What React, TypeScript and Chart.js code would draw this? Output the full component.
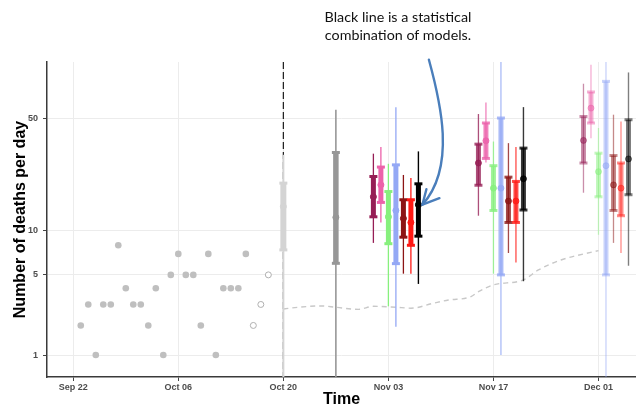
import React, { useEffect, useRef } from 'react';
import { Chart, registerables } from 'chart.js';

Chart.register(...registerables);

// ---------- axes ----------
const tickDays = [0, 14, 28, 42, 56, 70]; // days since Sep 22
const tickLabels = ['Sep 22', 'Oct 06', 'Oct 20', 'Nov 03', 'Nov 17', 'Dec 01'];
const yTickValues = [1, 5, 10, 50];
const xRange = [-3.5, 75];
const yRange = [0.48, 110];

// ---------- observed deaths ----------
const observedDays = [1, 2, 3, 4, 5, 6, 7, 8, 9, 10, 11, 12, 13, 14, 15, 16, 17, 18, 19, 20, 21, 22, 23];
const observedDeaths = [2, 3, 1, 3, 3, 8, 4, 3, 3, 2, 4, 1, 5, 7, 5, 5, 2, 7, 1, 4, 4, 4, 7];
const provisionalDays = [24, 25, 26];
const provisionalDeaths = [2, 3, 5];

// ---------- forecast reference line ----------
const forecastStartDay = 28;
const trendDays = [28, 30, 33, 35, 38, 40, 43, 45, 48, 50, 53, 54, 56, 60, 62, 65, 70];
const trendValues = [2.76, 2.85, 2.92, 2.85, 2.74, 2.9, 2.85, 2.8, 3.07, 3.25, 3.45, 3.77, 4.23, 4.6, 5.42, 6.36, 7.37];

// ---------- earlier ensemble forecasts [2.5%, 25%, 50%, 75%, 97.5%] ----------
const pastDays = [28, 35];
const pastOct20 = [0, 7.45, 14.3, 20.1, 30.1];
const pastOct27 = [0, 6.03, 12.2, 31.1, 56.7];
const pastColors = ['#d4d4d4', '#979797'];

// ---------- model forecasts, per target date (Nov 03, Nov 17, Dec 01) ----------
const forecastDays = [42, 56, 70];
const modelOffsets = [-2, -1, 0, 1, 2, 3, 4];
const horizonAlpha = [1, 0.78, 0.5];
const modelColors = ['150,30,85', '236,98,170', '135,240,125', '148,168,245', '140,20,20', '255,25,20', '0,0,0'];

const modelMaroon = [[8.3, 12.3, 16.5, 22.1, 30.6], [12.5, 19.5, 26.8, 35.0, 53.4], [17.5, 26.8, 36.9, 51.6, 81.4]];
const modelPink = [[11.3, 15.2, 19.6, 25.3, 33.6], [27.0, 28.6, 36.7, 47.1, 62.8], [38.1, 47.1, 58.0, 72.6, 106]];
const modelGreen = [[2.9, 8.2, 12.3, 17.8, 26.5], [5.1, 13.5, 18.7, 25.8, 36.3], [9.4, 16.5, 23.7, 30.8, 43.9]];
const modelBlue = [[1.95, 6.0, 13.5, 26.1, 58.8], [1.0, 5.0, 18.7, 50.5, 150], [0, 5.0, 25.8, 84.1, 200]];
const modelDarkRed = [[5.1, 9.06, 12.0, 15.8, 22.6], [7.1, 11.3, 15.5, 21.9, 35.5], [8.3, 13.5, 19.6, 29.8, 52.9]];
const modelRed = [[5.1, 8.0, 11.3, 15.8, 21.6], [6.1, 11.3, 15.5, 20.6, 33.6], [7.1, 12.5, 18.7, 26.8, 48.1]];
const modelEnsemble = [[4.3, 9.2, 14.7, 19.9, 31.6], [4.5, 13.6, 21.4, 33.1, 58.8], [5.8, 17.0, 28.4, 49.3, 95.2]];
const models = [modelMaroon, modelPink, modelGreen, modelBlue, modelDarkRed, modelRed, modelEnsemble];

const ensembleIndex = 6;

// log10(x + 1) transform
const tr = (v: number) => Math.log10(v + 1);

const FONT = "'Liberation Sans', Arial, sans-serif";

function buildDatasets() {
  const ds: any[] = [];
  ds.push({
    data: trendDays.map((d, i) => ({ x: d, y: tr(trendValues[i]) })),
    borderColor: '#c8c8c8', borderDash: [5, 4], borderWidth: 1.4, pointRadius: 0,
    cubicInterpolationMode: 'monotone',
  });
  ds.push({
    data: [{ x: forecastStartDay, y: tr(yRange[1]) }, { x: forecastStartDay, y: tr(yRange[0]) }],
    borderColor: '#1a1a1a', borderDash: [7, 3], borderWidth: 1.2, pointRadius: 0,
  });
  ds.push({
    data: observedDays.map((d, i) => ({ x: d, y: tr(observedDeaths[i]) })),
    showLine: false, pointRadius: 3.3, pointBackgroundColor: '#bfbfbf', pointBorderColor: '#bfbfbf', pointBorderWidth: 0,
  });
  ds.push({
    data: provisionalDays.map((d, i) => ({ x: d, y: tr(provisionalDeaths[i]) })),
    showLine: false, pointRadius: 3, pointBackgroundColor: '#ffffff', pointBorderColor: '#b0b0b0', pointBorderWidth: 1,
  });
  const addInterval = (day: number, q: number[], color: string, thin: number, thick: number) => {
    ds.push({
      data: [{ x: day, y: tr(q[0]) }, { x: day, y: tr(q[4]) }],
      borderColor: color, borderWidth: thin, pointRadius: 0,
    });
    ds.push({
      data: [{ x: day, y: tr(q[1]) }, { x: day, y: tr(q[2]) }, { x: day, y: tr(q[3]) }],
      borderColor: color, borderWidth: thick, borderCapStyle: 'butt',
      pointStyle: ['line', 'circle', 'line'], pointRadius: [4, 3, 4], pointBorderWidth: [3, 1, 3],
      pointBackgroundColor: color, pointBorderColor: color,
    });
  };
  addInterval(pastDays[0], pastOct20, pastColors[0], 2, 6);
  addInterval(pastDays[1], pastOct27, pastColors[1], 1.6, 5.5);
  forecastDays.forEach((fd, h) => {
    models.forEach((m, k) => {
      const col = `rgba(${modelColors[k]},${horizonAlpha[h]})`;
      addInterval(fd + modelOffsets[k], m[h], col, k === ensembleIndex ? 1.4 : 1.3, 5);
    });
  });
  // earlier entries at the bottom
  const n = ds.length;
  ds.forEach((d, i) => { d.order = n - i; d.fill = false; });
  return ds;
}

const arrowPlugin = {
  id: 'arrowNote',
  afterDraw(chart: any) {
    const { ctx, scales } = chart;
    const tx = scales.x.getPixelForValue(forecastDays[0] + modelOffsets[ensembleIndex]) + 4;
    const ty = scales.y.getPixelForValue(tr(models[ensembleIndex][0][2]));
    ctx.save();
    ctx.strokeStyle = '#4a7ebb';
    ctx.lineWidth = 2.4;
    ctx.lineCap = 'round';
    ctx.lineJoin = 'round';
    ctx.beginPath();
    ctx.moveTo(tx + 6.5, ty - 145);
    ctx.bezierCurveTo(tx + 18, ty - 103, tx + 34, ty - 38, tx, ty);
    ctx.stroke();
    ctx.beginPath();
    ctx.moveTo(tx + 17, ty - 6.5);
    ctx.lineTo(tx, ty);
    ctx.lineTo(tx + 4, ty - 15.5);
    ctx.stroke();
    ctx.restore();
  },
};

export default function App() {
  const ref = useRef<HTMLCanvasElement | null>(null);
  useEffect(() => {
    if (!ref.current) return;
    const chart = new Chart(ref.current, {
      type: 'line',
      data: { datasets: buildDatasets() },
      plugins: [arrowPlugin],
      options: {
        responsive: false,
        animation: false,
        events: [],
        layout: { autoPadding: false, padding: { top: 62, right: 0, left: 0, bottom: 0 } },
        plugins: { legend: { display: false }, tooltip: { enabled: false } },
        scales: {
          x: {
            type: 'linear', min: xRange[0], max: xRange[1],
            afterBuildTicks: (s: any) => { s.ticks = tickDays.map((v) => ({ value: v })); },
            afterFit: (s: any) => { s.height = 31; },
            ticks: {
              callback: (v: any) => { const i = tickDays.indexOf(Number(v)); return i >= 0 ? tickLabels[i] : ''; },
              font: { family: FONT, size: 9, weight: 'bold' }, color: '#4d4d4d', padding: 1,
              maxRotation: 0, autoSkip: false,
            },
            grid: { color: '#ececec', lineWidth: 1, tickColor: '#444', tickLength: 4 },
            border: { color: '#3a3a3a', width: 1.5 },
            title: {
              display: true, text: 'Time', color: '#000',
              font: { family: FONT, size: 16, weight: 'bold', lineHeight: 1 },
              padding: { top: 0, bottom: 0 },
            },
          },
          y: {
            type: 'linear', min: tr(yRange[0]), max: tr(yRange[1]),
            afterBuildTicks: (s: any) => { s.ticks = yTickValues.map((v) => ({ value: tr(v) })); },
            afterFit: (s: any) => { s.width = 47; },
            ticks: {
              callback: (v: any) => {
                const i = yTickValues.findIndex((t) => Math.abs(tr(t) - Number(v)) < 1e-6);
                return i >= 0 ? String(yTickValues[i]) : '';
              },
              font: { family: FONT, size: 9, weight: 'bold' }, color: '#4d4d4d', padding: 5,
            },
            grid: { color: '#ececec', lineWidth: 1, tickColor: '#444', tickLength: 4 },
            border: { color: '#3a3a3a', width: 1.5 },
            title: {
              display: true, text: 'Number of deaths per day', color: '#000',
              font: { family: FONT, size: 16, weight: 'bold', lineHeight: 1 },
              padding: { top: 13, bottom: 0 },
            },
          },
        },
      } as any,
    });
    return () => chart.destroy();
  }, []);
  return (
    <div style={{ position: 'fixed', left: 0, top: 0, width: 636, height: 408, background: '#fff', overflow: 'hidden' }}>
      <canvas ref={ref} width={636} height={408} style={{ position: 'absolute', left: 0, top: 0 }} />
      <div
        style={{
          position: 'absolute', left: 298, top: 8, width: 200, textAlign: 'center',
          fontFamily: "Lato, 'Open Sans', sans-serif", fontSize: 14.3, lineHeight: '18px', color: '#111',
        }}
      >
        Black line is a statistical
        <br />
        combination of models.
      </div>
    </div>
  );
}
